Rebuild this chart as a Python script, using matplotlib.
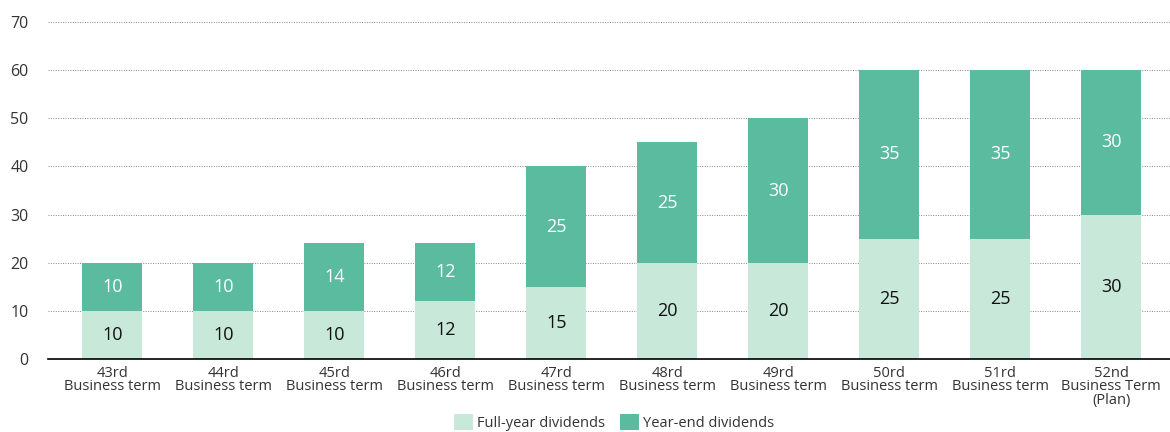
import matplotlib
matplotlib.use("Agg")
import matplotlib.pyplot as plt
from matplotlib.patches import Patch

categories = ["43rd\nBusiness term", "44rd\nBusiness term", "45rd\nBusiness term",
              "46rd\nBusiness term", "47rd\nBusiness term", "48rd\nBusiness term",
              "49rd\nBusiness term", "50rd\nBusiness term", "51rd\nBusiness term",
              "52nd\nBusiness Term\n(Plan)"]
full_year = [10, 10, 10, 12, 15, 20, 20, 25, 25, 30]
year_end = [10, 10, 14, 12, 25, 25, 30, 35, 35, 30]
yticks = [0, 10, 20, 30, 40, 50, 60, 70]

light = "#C8E8DA"
dark = "#5BBB9E"

plt.rcParams['font.family'] = ['Open Sans', 'DejaVu Sans']

fig = plt.figure(figsize=(11.7, 4.32), dpi=100)
ax = fig.add_axes([0.041, 0.169, 0.959, 0.780])

x = list(range(len(categories)))
w = 0.54
ax.bar(x, full_year, width=w, color=light, zorder=2)
ax.bar(x, year_end, width=w, bottom=full_year, color=dark, zorder=2)

for i in x:
    ax.text(i, full_year[i] / 2, str(full_year[i]), ha='center', va='center',
            fontsize=13, color='#111111', zorder=3)
    ax.text(i, full_year[i] + year_end[i] / 2, str(year_end[i]), ha='center', va='center',
            fontsize=13, color='white', zorder=3)

ax.set_xlim(-0.58, 9.53)
ax.set_ylim(0, 70)
ax.set_yticks(yticks)
ax.set_xticks(x)
ax.set_xticklabels(categories, fontsize=10.5, color='#333333', linespacing=0.85)
ax.tick_params(axis='both', length=0, colors='#333333')
ax.tick_params(axis='x', pad=5, labelsize=10.5)
ax.tick_params(axis='y', pad=14, labelsize=11.5)

ax.yaxis.grid(True, linestyle=(0, (1, 1.5)), color='#888888', linewidth=0.7, zorder=0)
ax.set_axisbelow(True)
for s in ['top', 'right', 'left']:
    ax.spines[s].set_visible(False)
ax.spines['bottom'].set_color('black')
ax.spines['bottom'].set_linewidth(1.2)
ax.spines['bottom'].set_zorder(4)

handles = [Patch(facecolor=light, label='Full-year dividends'),
           Patch(facecolor=dark, label='Year-end dividends')]
fig.legend(handles=handles, loc='center', bbox_to_anchor=(0.525, 0.022), ncol=2,
           frameon=False, fontsize=10.5, handlelength=1.3, handleheight=1.3,
           handletextpad=0.3, columnspacing=1.0, labelcolor='#333333')

fig.savefig("out.png", dpi=100)
